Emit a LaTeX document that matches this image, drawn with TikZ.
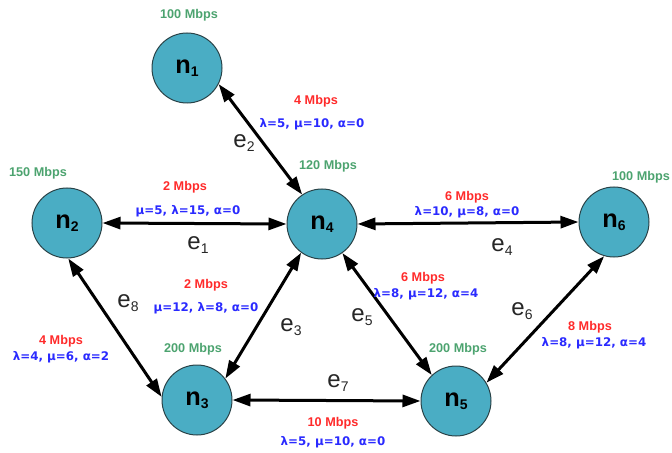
\documentclass[tikz,border=0pt]{standalone}
\usepackage{fontspec}
\setmainfont{Liberation Sans}
\newfontfamily\parfont{DejaVu Sans}
\usetikzlibrary{arrows.meta}
\definecolor{nodefill}{HTML}{4AADC4}
\definecolor{nodeline}{HTML}{2A4348}
\definecolor{bwgreen}{HTML}{4CA36F}
\definecolor{capred}{HTML}{FF2A2A}
\definecolor{parblue}{HTML}{2A2AFF}
\newcommand\lsub[1]{\raisebox{-2pt}{\fontsize{10.5}{10.5}\selectfont #1}}
\newcommand\esub[1]{\raisebox{-2.5pt}{\fontsize{10.5}{10.5}\selectfont #1}}
\tikzset{
  nd/.style={circle, draw=nodeline, line width=0.75pt, fill=nodefill, minimum size=52.5pt, inner sep=0pt, font=\fontsize{19}{19}\selectfont\bfseries},
  bwlab/.style={text=bwgreen, font=\fontsize{9.5}{9.5}\selectfont\bfseries, inner sep=0pt},
  caplab/.style={text=capred, font=\fontsize{9.5}{9.5}\selectfont\bfseries, inner sep=0pt},
  parlab/.style={text=parblue, font=\parfont\fontsize{8.9}{8.9}\selectfont\bfseries, inner sep=0pt},
  elab/.style={text=black!85, font=\fontsize{18}{18}\selectfont, inner sep=0pt},
  conn/.style={line width=2.25pt, {Triangle[length=13.5pt,width=9pt]}-{Triangle[length=13.5pt,width=9pt]}}
}
\begin{document}
\begin{tikzpicture}[x=0.75pt, y=-0.75pt]
\useasboundingbox (0,0) rectangle (672,453);
% nodes
\node[nd] (n1) at (187,68) {n\lsub{1}};
\node[nd] (n2) at (67,223) {n\lsub{2}};
\node[nd] (n4) at (322,224) {n\lsub{4}};
\node[nd] (n6) at (614,222) {n\lsub{6}};
\node[nd] (n3) at (197,400) {n\lsub{3}};
\node[nd] (n5) at (456,401) {n\lsub{5}};
% bandwidth labels
\node[bwlab] (b1) at (189,15) {100 Mbps};
\node[bwlab] (b2) at (38,173) {150 Mbps};
\node[bwlab] (b4) at (328,166) {120 Mbps};
\node[bwlab] (b6) at (641,177) {100 Mbps};
\node[bwlab] (b3) at (193,349) {200 Mbps};
\node[bwlab] (b5) at (458,349) {200 Mbps};
% connectors
\draw[conn] (n1.-27) -- (n4.124);
\draw[conn] (n2.east) -- (n4.west);
\draw[conn] (n4.east) -- (n6.west);
\draw[conn] (n2.-88) -- (n3.175);
\draw[conn] (n4.234) -- (n3.37);
\draw[conn] (n4.-55) -- (n5.133);
\draw[conn] (n6.-106) -- (n5.31);
\draw[conn] (n3.east) -- (n5.west);
% edge labels
\node[elab] (e1) at (198,245) {e\esub{1}};
\node[elab] (e2) at (244,143) {e\esub{2}};
\node[elab] (e3) at (291,327) {e\esub{3}};
\node[elab] (e4) at (502,247) {e\esub{4}};
\node[elab] (e5) at (362,317) {e\esub{5}};
\node[elab] (e6) at (522,311) {e\esub{6}};
\node[elab] (e7) at (338,383) {e\esub{7}};
\node[elab] (e8) at (128,303) {e\esub{8}};
% capacities and parameters
\node[caplab] (c2) at (316,101) {4 Mbps};
\node[parlab] (p2) at (312,124) {λ=5, μ=10, α=0};
\node[caplab] (c1) at (185,187) {2 Mbps};
\node[parlab] (p1) at (188,211) {μ=5, λ=15, α=0};
\node[caplab] (c4) at (467,197) {6 Mbps};
\node[parlab] (p4) at (467,212) {λ=10, μ=8, α=0};
\node[caplab] (c5) at (423,278) {6 Mbps};
\node[parlab] (p5) at (426,294) {λ=8, μ=12, α=4};
\node[caplab] (c6) at (590,327) {8 Mbps};
\node[parlab] (p6) at (594,343) {λ=8, μ=12, α=4};
\node[caplab] (c3) at (206,285) {2 Mbps};
\node[parlab] (p3) at (206,308) {μ=12, λ=8, α=0};
\node[caplab] (c8) at (61,341) {4 Mbps};
\node[parlab] (p8) at (61,357) {λ=4, μ=6, α=2};
\node[caplab] (c7) at (333,423) {10 Mbps};
\node[parlab] (p7) at (333,442) {λ=5, μ=10, α=0};
\end{tikzpicture}
\end{document}
